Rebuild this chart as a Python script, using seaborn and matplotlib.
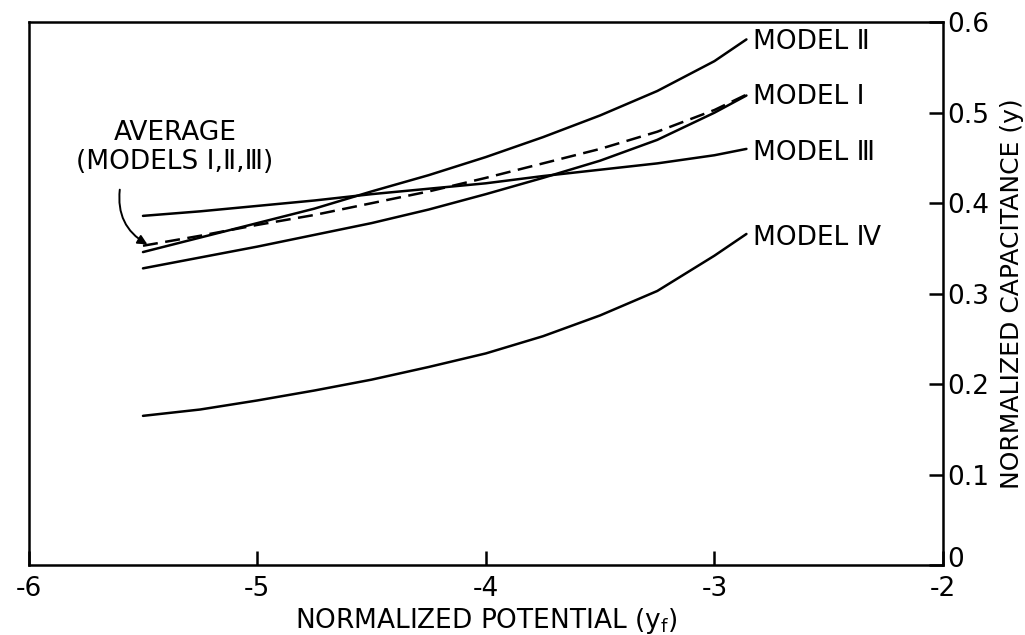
import matplotlib
matplotlib.use("Agg")
import matplotlib.pyplot as plt
import matplotlib.transforms as mtransforms
import seaborn as sns
import pandas as pd

# Data
potential = [-5.5, -5.25, -5.0, -4.75, -4.5, -4.25, -4.0, -3.75, -3.5, -3.25, -3.0, -2.86]
model_1 = [0.328, 0.340, 0.352, 0.365, 0.378, 0.393, 0.410, 0.428, 0.447, 0.470, 0.500, 0.519]
model_2 = [0.346, 0.362, 0.378, 0.394, 0.413, 0.431, 0.451, 0.473, 0.497, 0.524, 0.557, 0.581]
model_3 = [0.386, 0.391, 0.397, 0.403, 0.410, 0.416, 0.422, 0.430, 0.437, 0.444, 0.453, 0.460]
model_4 = [0.165, 0.172, 0.182, 0.193, 0.205, 0.219, 0.234, 0.253, 0.276, 0.303, 0.342, 0.366]
average = [0.353, 0.364, 0.376, 0.387, 0.400, 0.413, 0.428, 0.444, 0.460, 0.479, 0.503, 0.520]

series_names = ["MODEL Ⅱ", "MODEL Ⅰ", "MODEL Ⅲ", "MODEL Ⅳ"]
series_values = [model_2, model_1, model_3, model_4]
x_ticks = [-6, -5, -4, -3, -2]
y_ticks = [0, 0.1, 0.2, 0.3, 0.4, 0.5, 0.6]
y_tick_labels = ["0", "0.1", "0.2", "0.3", "0.4", "0.5", "0.6"]

sns.set_style("ticks")
plt.rcParams["font.family"] = ["DejaVu Sans"]
plt.rcParams["xtick.direction"] = "in"
plt.rcParams["ytick.direction"] = "in"
plt.rcParams["text.color"] = "black"
plt.rcParams["axes.labelcolor"] = "black"
plt.rcParams["xtick.color"] = "black"
plt.rcParams["ytick.color"] = "black"
plt.rcParams["axes.edgecolor"] = "black"

FS = 19

fig = plt.figure(figsize=(10.25, 6.35), dpi=100)
ax = fig.add_axes([0.028, 0.110, 0.892, 0.855])

for name, vals in zip(series_names, series_values):
    df = pd.DataFrame({"x": potential, "y": vals})
    sns.lineplot(data=df, x="x", y="y", ax=ax, color="black", linewidth=1.8,
                 estimator=None, sort=False)

df_avg = pd.DataFrame({"x": potential, "y": average})
sns.lineplot(data=df_avg, x="x", y="y", ax=ax, color="black", linewidth=1.8,
             linestyle=(0, (6, 3)), estimator=None, sort=False)

# Line labels
label_y = {"MODEL Ⅱ": 0.578, "MODEL Ⅰ": 0.517, "MODEL Ⅲ": 0.456, "MODEL Ⅳ": 0.362}
for name in series_names:
    ax.text(-2.83, label_y[name], name, ha="left", va="center", fontsize=FS)

ax.text(-5.36, 0.462, "AVERAGE\n(MODELS Ⅰ,Ⅱ,Ⅲ)", ha="center", va="center",
        fontsize=FS, linespacing=1.15)
ax.annotate("", xy=(-5.47, 0.353), xytext=(-5.6, 0.418),
            arrowprops=dict(arrowstyle="-|>", color="black", lw=1.4,
                            connectionstyle="arc3,rad=0.35", mutation_scale=14))

ax.set_xlim(-6, -2)
ax.set_ylim(0, 0.6)
ax.set_xticks(x_ticks)
ax.set_xticklabels([str(t) for t in x_ticks])
ax.set_yticks(y_ticks)
ax.set_yticklabels(y_tick_labels)
ax.yaxis.tick_right()
ax.yaxis.set_label_position("right")
ax.tick_params(axis="both", which="major", direction="in", length=10, width=1.8,
               labelsize=FS, zorder=5)
ax.tick_params(axis="y", left=False, right=True, pad=3)
ax.tick_params(axis="x", top=False, bottom=True, pad=8)
for s in ax.spines.values():
    s.set_visible(True)
    s.set_linewidth(1.8)
    s.set_color("black")

# lift the "0" label slightly so it clears the "-2" label, as in the reference
lbl0 = ax.get_yticklabels()[0]
lbl0.set_transform(lbl0.get_transform() + mtransforms.ScaledTranslation(0, 6 / 72, fig.dpi_scale_trans))

ax.set_xlabel("NORMALIZED POTENTIAL (y$_\\mathregular{f}$)", fontsize=FS, labelpad=3)
ax.set_ylabel("NORMALIZED CAPACITANCE (y)", fontsize=18)
ax.yaxis.set_label_coords(1.062, 0.5)

fig.savefig("out.png", dpi=100)
